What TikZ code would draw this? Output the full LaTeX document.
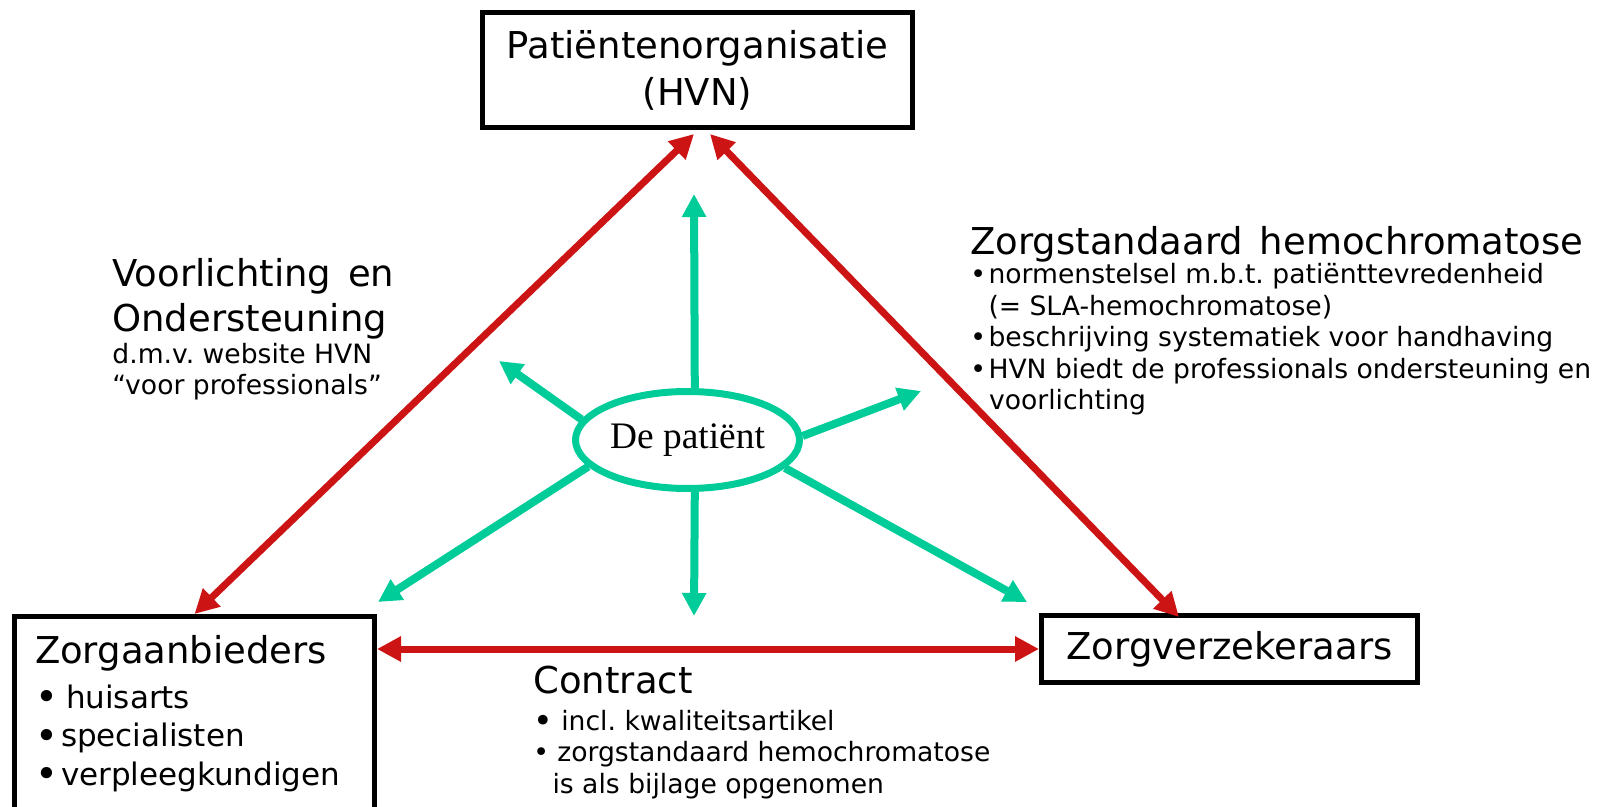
\documentclass[tikz,border=0pt]{standalone}
\usepackage{fontspec}
\setmainfont{DejaVu Sans}
\newfontfamily\serieffont{Liberation Serif}
\usetikzlibrary{shapes.geometric,arrows.meta}
\definecolor{rood}{RGB}{205,20,20}
\definecolor{groen}{RGB}{0,204,153}
\frenchspacing
\newcommand{\grootf}{\fontsize{18.5}{22.75}\selectfont\spaceskip=0.45em\relax}
\newcommand{\kleinf}{\fontsize{13.3}{15.75}\selectfont\spaceskip=0pt\relax}
\newcommand{\lijstf}{\fontsize{15.5}{19.25}\selectfont\spaceskip=0pt\relax}
\newcommand{\bul}[1][0.84em]{\makebox[#1][l]{•}}
\newcommand{\grotebul}[1][0.84em]{\makebox[#1][l]{\raisebox{-0.08em}{\scalebox{1.25}{•}}}}
\tikzstyle{partij}=[draw, line width=2.5pt, inner sep=0pt, font=\grootf]
\tikzstyle{tekst}=[anchor=base west, inner sep=0pt, text width=300pt, align=left]
\tikzstyle{relatie}=[draw, line width=3.5pt, color=rood,
	{Triangle[length=12pt,width=12pt]}-{Triangle[length=12pt,width=12pt]}]
\tikzstyle{invloed}=[draw, line width=4pt, color=groen,
	-{Triangle[length=11.5pt,width=11.5pt]}]
\newcommand{\partij}[3]{node (#1) [partij, #2] {#3}}

\begin{document}
\begin{tikzpicture}[x=0.5pt,y=-0.5pt]
	\useasboundingbox (0,0) rectangle (1616,807);

	% The three parties
	\path (480,10) \partij{hvn}{anchor=north west, minimum width=215pt,
		minimum height=57.5pt, align=center}{Patiëntenorganisatie\\[0.75pt](HVN)};
	\path (12,614) \partij{zorg}{anchor=north west, text width=159.5pt,
		inner xsep=10.25pt, inner ysep=9.25pt, align=left}{%
		Zorgaanbieders\par\vspace{3.25pt}%
		{\lijstf\grotebul[1em]huisarts\par
		\grotebul specialisten\par
		\grotebul verpleegkundigen\par}};
	\path (1039,613) \partij{verz}{anchor=north west, minimum width=188pt,
		minimum height=33.5pt}{Zorgverzekeraars};

	% The patient in the middle
	\path (687.5,440) node (pat) [ellipse, draw=groen, line width=3.5pt, fill=white,
		minimum width=112pt, minimum height=48.5pt, inner sep=0pt,
		font=\serieffont\fontsize{18.7}{22}\selectfont] {De patiënt};

	% Texts along the sides
	\path (112,286.5) node (voorl) [tekst] {{\grootf Voorlichting en\par
		Ondersteuning\par}{\kleinf d.m.v. website HVN\par
		“voor professionals”\par}};
	\path (970,255) node (zorgst) [tekst, text width=320pt] {{\grootf Zorgstandaard
		hemochromatose\par}\vspace{-1.25pt}{\kleinf
		\bul[0.68em]normenstelsel m.b.t. patiënttevredenheid\par
		\hspace*{0.68em}(= SLA-hemochromatose)\par
		\bul[0.68em]beschrijving systematiek voor handhaving\par
		\bul[0.68em]HVN biedt de professionals ondersteuning en\par
		\hspace*{0.7em}voorlichting\par}};
	\path (533,693) node (contract) [tekst] {{\grootf Contract\par}\vspace{2.75pt}{\kleinf
		\grotebul[1.05em]incl. kwaliteitsartikel\par
		\bul[0.9em]zorgstandaard hemochromatose\par
		\hspace*{0.72em}is als bijlage opgenomen\par}};

	% End points of the green arrows
	\coordinate (pijlN) at (694,194);
	\coordinate (pijlZ) at (694,616);
	\coordinate (pijlNW) at (499,361);
	\coordinate (pijlNO) at (921,391);
	\coordinate (pijlZW) at (378,602);
	\coordinate (pijlZO) at (1027,602);

	% Draw arrows between elements
	\path [relatie] ([xshift=-1.75pt,yshift=-2pt]hvn.south) -- (zorg.north);
	\path [relatie] ([xshift=6.25pt,yshift=-2pt]hvn.south) -- ([xshift=-25.25pt,yshift=-2pt]verz.north);
	\path [relatie] (verz.west -| zorg.east) -- (verz.west);

	\path [invloed] (pat.82) -- (pijlN);
	\path [invloed] (pat.-82) -- (pijlZ);
	\path [invloed] (pat.169) -- (pijlNW);
	\path [invloed] (pat.2) -- (pijlNO);
	\path [invloed] (pat.195) -- (pijlZW);
	\path [invloed] (pat.-16) -- (pijlZO);

\end{tikzpicture}
\end{document}
